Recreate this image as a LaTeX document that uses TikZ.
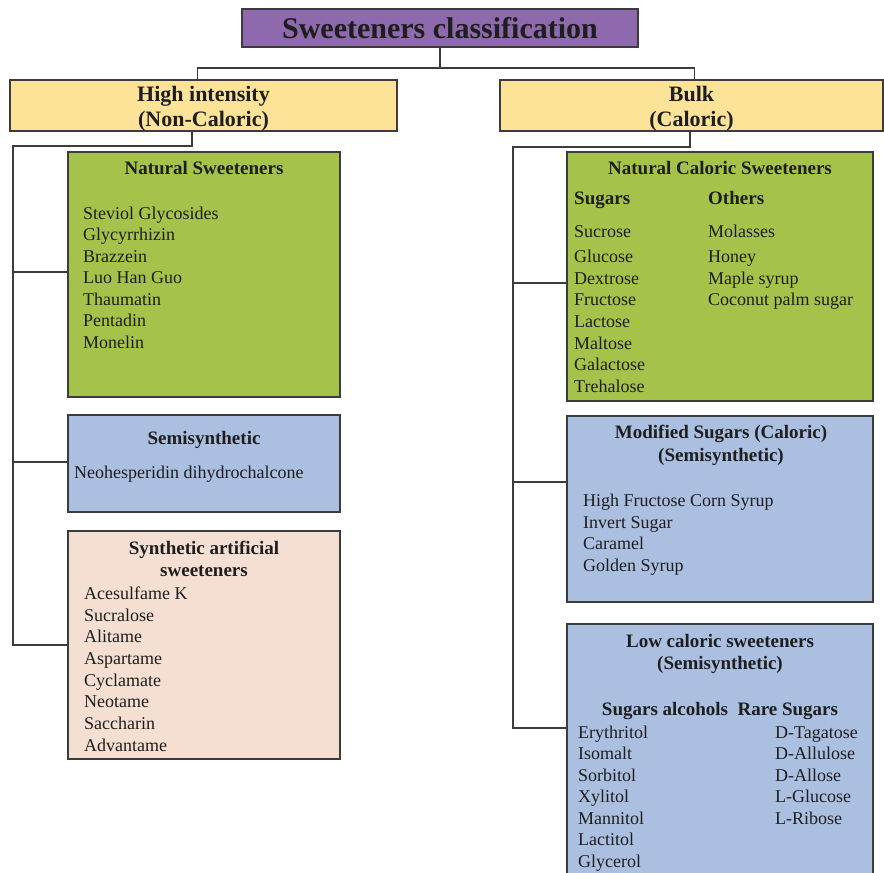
\documentclass[tikz,border=0pt]{standalone}
\usepackage{fontspec}
\setmainfont{Liberation Serif}
\definecolor{purp}{HTML}{8E69AE}
\definecolor{yel}{HTML}{FCE397}
\definecolor{grn}{HTML}{A5C34B}
\definecolor{blu}{HTML}{ABBFE1}
\definecolor{pch}{HTML}{F5DFD2}
\definecolor{edgec}{HTML}{3C3C3C}
\definecolor{txt}{HTML}{1E1E1E}
\begin{document}
\begin{tikzpicture}[x=1pt,y=-1pt,
 box/.style={draw=edgec, line width=1.6pt, rectangle, inner sep=0pt},
 conn/.style={draw=edgec, line width=1.7pt},
 hd/.style={font=\fontsize{19}{22}\selectfont\bfseries, inner sep=0pt, text=txt, yshift=-3.5pt},
 hdw/.style={hd, anchor=mid west},
 it/.style={font=\fontsize{18}{21}\selectfont, inner sep=0pt, text=txt, anchor=mid west, yshift=-4pt},
 big/.style={font=\fontsize{22}{26}\selectfont\bfseries, inner sep=0pt, text=txt, yshift=-3.5pt},
]
\useasboundingbox (0,0) rectangle (884,873);
\fill[white] (0,0) rectangle (884,873);
% boxes
\node[box, fill=purp, minimum width=396pt, minimum height=38pt] (title) at (440,28) {};
\node[box, fill=yel, minimum width=387pt, minimum height=51pt] (hi) at (203.5,105.5) {};
\node[box, fill=yel, minimum width=383pt, minimum height=51pt] (bulk) at (691.5,105.5) {};
\node[box, fill=grn, minimum width=272pt, minimum height=245pt] (nat) at (204,274.5) {};
\node[box, fill=blu, minimum width=272pt, minimum height=97pt] (semi) at (204,463.5) {};
\node[box, fill=pch, minimum width=272pt, minimum height=228pt] (syn) at (204,645) {};
\node[box, fill=grn, minimum width=306pt, minimum height=249pt] (ncal) at (720,276.5) {};
\node[box, fill=blu, minimum width=306pt, minimum height=186pt] (mod) at (720,509) {};
\node[box, fill=blu, minimum width=306pt, minimum height=256pt] (low) at (720,752) {};
% connectors
\draw[conn] (title.south) -- ++(0,20) coordinate (tj);
\draw[conn] (tj) -| ([xshift=-6pt]hi.north);
\draw[conn] (tj) -| ([xshift=3pt]bulk.north);
\coordinate (lv) at (13,146);
\draw[conn] ([xshift=-11.5pt]hi.south) |- (lv) |- (syn.west);
\draw[conn] (lv) |- ([yshift=2.5pt]nat.west);
\draw[conn] (lv) |- ([yshift=1.5pt]semi.west);
\coordinate (rv) at (513,147);
\draw[conn] ([xshift=-1.5pt]bulk.south) |- (rv) |- ([yshift=24pt]low.west);
\draw[conn] (rv) |- ([yshift=-6.5pt]ncal.west);
\draw[conn] (rv) |- ([yshift=27pt]mod.west);
% texts
\node[font=\fontsize{30}{34}\selectfont\bfseries, inner sep=0pt, text=txt, anchor=mid] (titletxt) at (440,36) {Sweeteners classification};
\node[big, anchor=mid] (hi1) at (203.5,96) {High intensity};
\node[big, anchor=mid] (hi2) at (203.5,121) {(Non-Caloric)};
\node[big, anchor=mid] (bu1) at (691.5,96) {Bulk};
\node[big, anchor=mid] (bu2) at (691.5,121) {(Caloric)};
% natural
\node[hd, anchor=mid] (nath) at (204,169) {Natural Sweeteners};
\foreach \t [count=\i] in {Steviol Glycosides, Glycyrrhizin, Brazzein, Luo Han Guo, Thaumatin, Pentadin, Monelin}
  \node[it] (nat-\i) at (83,{213+21.5*(\i-1)}) {\t};
% semisynthetic
\node[hd, anchor=mid] (semih) at (204,439) {Semisynthetic};
\node[it] (semi-1) at (74,472) {Neohesperidin dihydrochalcone};
% synthetic
\node[hd, anchor=mid] (synh1) at (204,549) {Synthetic artificial};
\node[hd, anchor=mid] (synh2) at (204,571) {sweeteners};
\foreach \t [count=\i] in {Acesulfame K, Sucralose, Alitame, Aspartame, Cyclamate, Neotame, Saccharin, Advantame}
  \node[it] (syn-\i) at (84,{593+21.7*(\i-1)}) {\t};
% natural caloric
\node[hd, anchor=mid] (ncalh) at (720,169) {Natural Caloric Sweeteners};
\node[hdw] (sugh) at (574,199) {Sugars};
\node[hdw] (oth) at (708,199) {Others};
\node[it] (sug-1) at (574,231) {Sucrose};
\foreach \t [count=\i] in {Glucose, Dextrose, Fructose, Lactose, Maltose, Galactose, Trehalose}
  \node[it] (sug-x\i) at (574,{256+21.7*(\i-1)}) {\t};
\node[it] (oth-1) at (708,231) {Molasses};
\foreach \t [count=\i] in {Honey, Maple syrup, Coconut palm sugar}
  \node[it] (oth-x\i) at (708,{256+21.7*(\i-1)}) {\t};
% modified
\node[hd, anchor=mid] (modh1) at (721,433) {Modified Sugars (Caloric)};
\node[hd, anchor=mid] (modh2) at (721,456) {(Semisynthetic)};
\foreach \t [count=\i] in {High Fructose Corn Syrup, Invert Sugar, Caramel, Golden Syrup}
  \node[it] (mod-\i) at (583,{500+21.7*(\i-1)}) {\t};
% low caloric
\node[hd, anchor=mid] (lowh1) at (720,642) {Low caloric sweeteners};
\node[hd, anchor=mid] (lowh2) at (720,664) {(Semisynthetic)};
\node[hd, anchor=mid] (lowh3) at (720,710) {Sugars alcohols\ \ Rare Sugars};
\foreach \t [count=\i] in {Erythritol, Isomalt, Sorbitol, Xylitol, Mannitol, Lactitol, Glycerol}
  \node[it] (alc-\i) at (578,{732+21.5*(\i-1)}) {\t};
\foreach \t [count=\i] in {D-Tagatose, D-Allulose, D-Allose, L-Glucose, L-Ribose}
  \node[it] (rare-\i) at (775,{732+21.5*(\i-1)}) {\t};
\end{tikzpicture}
\end{document}
